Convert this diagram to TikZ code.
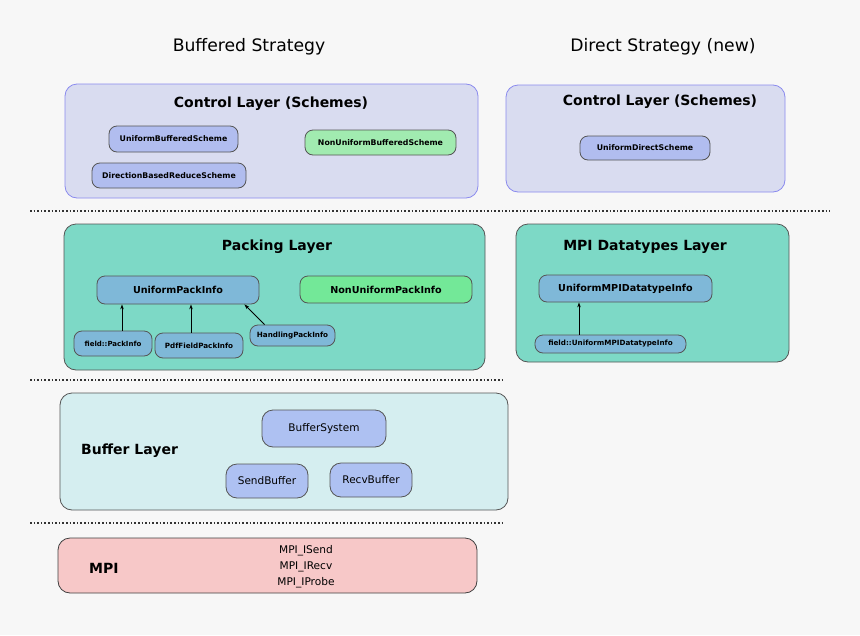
\documentclass[tikz,border=0pt]{standalone}
\usepackage{fontspec}
\setmainfont{DejaVu Sans}
\usetikzlibrary{arrows.meta, positioning, calc}
\definecolor{pagebg}{HTML}{F7F7F7}
\definecolor{ctrlfill}{HTML}{D9DCF0}
\definecolor{ctrldraw}{HTML}{8A8AEE}
\definecolor{schemefill}{HTML}{B1BDEF}
\definecolor{greenfill}{HTML}{A1EBB0}
\definecolor{packfill}{HTML}{7DD9C6}
\definecolor{infofill}{HTML}{7FB8D8}
\definecolor{infogreen}{HTML}{73E898}
\definecolor{buffill}{HTML}{D5EEF0}
\definecolor{bufnode}{HTML}{AEC1F2}
\definecolor{mpifill}{HTML}{F7C8C8}
\definecolor{edgegray}{HTML}{555555}

\begin{document}
\begin{tikzpicture}[
  x=1pt, y=-1pt,
  layer/.style={draw=edgegray, rounded corners=12pt, line width=0.8pt, inner sep=0pt},
  item/.style={draw=edgegray, rounded corners=8pt, line width=0.8pt, inner sep=0pt, font=\bfseries\fontsize{7.8}{9}\selectfont},
  ttl/.style={font=\bfseries\fontsize{14}{16}\selectfont},
  arr/.style={-{Stealth[length=5pt,width=3.5pt]}, line width=0.8pt, black},
  sep/.style={dotted, line width=1.6pt, black!80}
]
\useasboundingbox[fill=pagebg] (0,0) rectangle (860,635);

% strategy headings
\node[font=\fontsize{17.2}{20}\selectfont] (hbuf) at (249,47) {Buffered Strategy};
\node[font=\fontsize{17.2}{20}\selectfont] (hdir) at (663,47) {Direct Strategy (new)};

% control layer
\node[layer, draw=ctrldraw, fill=ctrlfill, minimum width=413, minimum height=114] (ctrl) at (271.5,141) {};
\node[ttl] (ctrlttl) at (271,104) {Control Layer (Schemes)};
\node[item, fill=schemefill, minimum width=129, minimum height=26] (ubs) at (173.5,139) {UniformBufferedScheme};
\node[item, fill=schemefill, minimum width=154, minimum height=25] (dbrs) at (169,175.5) {DirectionBasedReduceScheme};
\node[item, fill=greenfill, minimum width=151, minimum height=25] (nubs) at (380.5,142.5) {NonUniformBufferedScheme};

\node[layer, draw=ctrldraw, fill=ctrlfill, minimum width=279, minimum height=107] (dctrl) at (645.5,138.5) {};
\node[ttl] (dctrlttl) at (660,102) {Control Layer (Schemes)};
\node[item, fill=schemefill, minimum width=130, minimum height=24] (uds) at (645,148) {UniformDirectScheme};

\draw[sep] (30,211) -- (830,211);

% packing layer
\node[layer, fill=packfill, minimum width=421, minimum height=146] (pack) at (274.5,297) {};
\node[ttl] (packttl) at (277,247) {Packing Layer};
\node[item, fill=infofill, minimum width=162, minimum height=28, font=\bfseries\fontsize{9.6}{11}\selectfont] (upi) at (178,290) {UniformPackInfo};
\node[item, fill=infogreen, minimum width=172, minimum height=27, font=\bfseries\fontsize{9.6}{11}\selectfont] (nupi) at (386,289.5) {NonUniformPackInfo};
\node[item, fill=infofill, minimum width=78, minimum height=25, font=\bfseries\fontsize{7}{9}\selectfont] (fpi) at (113,343.5) {field::PackInfo};
\node[item, fill=infofill, minimum width=88, minimum height=25, font=\bfseries\fontsize{7.2}{9}\selectfont] (pfpi) at (199,345.5) {PdfFieldPackInfo};
\node[item, fill=infofill, minimum width=85, minimum height=21, font=\bfseries\fontsize{7.2}{9}\selectfont] (hpi) at (292.5,335.5) {HandlingPackInfo};

\draw[arr] ([xshift=9pt]fpi.north) -- ([xshift=9pt]fpi.north |- upi.south);
\draw[arr] ([xshift=-8pt]pfpi.north) -- ([xshift=-8pt]pfpi.north |- upi.south);
\draw[arr] ([xshift=15pt]hpi.north west) -- ([xshift=-15pt]upi.south east);

% mpi datatypes layer
\node[layer, fill=packfill, minimum width=273, minimum height=138] (mdt) at (652.5,293) {};
\node[ttl] (mdtttl) at (645,247) {MPI Datatypes Layer};
\node[item, fill=infofill, minimum width=173, minimum height=27, font=\bfseries\fontsize{9.6}{11}\selectfont] (umdi) at (625.5,288.5) {UniformMPIDatatypeInfo};
\node[item, fill=infofill, minimum width=151, minimum height=18, font=\bfseries\fontsize{7.2}{9}\selectfont] (fumdi) at (610.5,344) {field::UniformMPIDatatypeInfo};

\draw[arr] ([xshift=-31.5pt]fumdi.north) -- ([xshift=-31.5pt]fumdi.north |- umdi.south);

\draw[sep] (30,380) -- (505,380);

% buffer layer
\node[layer, fill=buffill, minimum width=448, minimum height=117] (buf) at (284,451.5) {};
\node[ttl, anchor=west, inner sep=0pt] (bufttl) at (81,451) {Buffer Layer};
\node[item, fill=bufnode, rounded corners=11pt, minimum width=124, minimum height=37, font=\fontsize{10.5}{12}\selectfont] (bsys) at (324,428.5) {BufferSystem};
\node[item, fill=bufnode, rounded corners=11pt, minimum width=82, minimum height=34, font=\fontsize{10.5}{12}\selectfont] (sbuf) at (267,481) {SendBuffer};
\node[item, fill=bufnode, rounded corners=11pt, minimum width=82, minimum height=34, font=\fontsize{10.5}{12}\selectfont] (rbuf) at (371,480) {RecvBuffer};

\draw[sep] (30,523) -- (505,523);

% mpi
\node[layer, fill=mpifill, draw=black!75, minimum width=419, minimum height=55] (mpi) at (267.5,565.5) {};
\node[ttl, anchor=west, inner sep=0pt] (mpittl) at (89,568) {MPI};
\node[align=center, font=\fontsize{10.6}{16}\selectfont] (calls) at (306,567) {MPI\_ISend\\MPI\_IRecv\\MPI\_IProbe};
\end{tikzpicture}
\end{document}
